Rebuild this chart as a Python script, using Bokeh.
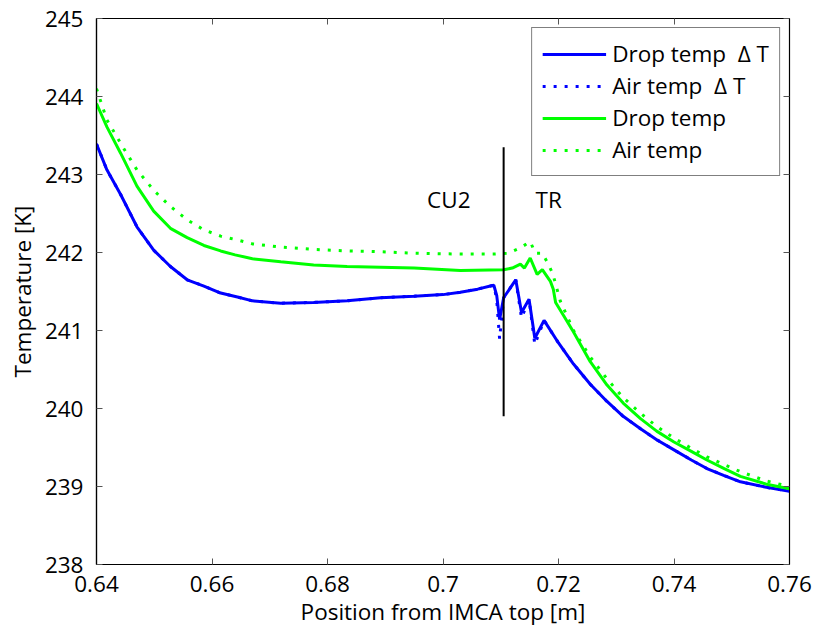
from bokeh.plotting import figure
from bokeh.models import LinearAxis, Range1d, FixedTicker, Legend, LegendItem, CustomJSTickFormatter
from bokeh.core.properties import value
from bokeh.embed import file_html
from bokeh.resources import INLINE

FONT = "Open Sans"
FS = "22.5px"

# ---- data ----
drop_dt_x = [0.6400, 0.6418, 0.6442, 0.6470, 0.6499, 0.6528, 0.6557, 0.6586, 0.6615, 0.6644, 0.6670,
             0.6719, 0.6776, 0.6834, 0.6892, 0.6950, 0.7000, 0.7030, 0.7060, 0.7082, 0.7088, 0.7093,
             0.7098, 0.7105, 0.7126, 0.7136, 0.7149, 0.7159, 0.7175, 0.7200, 0.7226, 0.7255, 0.7284,
             0.7312, 0.7342, 0.7370, 0.7400, 0.7430, 0.7457, 0.7487, 0.7515, 0.7560, 0.7600]
drop_dt_y = [243.39, 243.06, 242.74, 242.33, 242.03, 241.82, 241.65, 241.57, 241.48, 241.43, 241.38,
             241.35, 241.36, 241.38, 241.42, 241.44, 241.46, 241.49, 241.53, 241.57, 241.58, 241.45,
             241.14, 241.42, 241.65, 241.23, 241.40, 240.90, 241.13, 240.84, 240.57, 240.31, 240.09,
             239.90, 239.74, 239.60, 239.47, 239.34, 239.23, 239.14, 239.06, 238.99, 238.94]

air_dt_x = [0.6400, 0.6418, 0.6442, 0.6470, 0.6499, 0.6528, 0.6557, 0.6586, 0.6615, 0.6644, 0.6670,
            0.6719, 0.6776, 0.6834, 0.6892, 0.6950, 0.7000, 0.7030, 0.7060, 0.7082, 0.7088, 0.7093,
            0.7098, 0.7105, 0.7126, 0.7136, 0.7149, 0.7159, 0.7175, 0.7200, 0.7226, 0.7255, 0.7284,
            0.7312, 0.7342, 0.7370, 0.7400, 0.7430, 0.7457, 0.7487, 0.7515, 0.7560, 0.7600]
air_dt_y = [243.39, 243.06, 242.74, 242.33, 242.03, 241.82, 241.65, 241.57, 241.48, 241.43, 241.38,
            241.35, 241.36, 241.38, 241.42, 241.44, 241.46, 241.49, 241.53, 241.57, 241.58, 241.40,
            240.89, 241.42, 241.65, 241.16, 241.40, 240.82, 241.13, 240.84, 240.57, 240.31, 240.09,
            239.90, 239.74, 239.60, 239.47, 239.34, 239.23, 239.14, 239.06, 238.99, 238.94]

drop_x = [0.6400, 0.6418, 0.6442, 0.6470, 0.6499, 0.6528, 0.6557, 0.6586, 0.6615, 0.6640, 0.6670,
          0.6719, 0.6776, 0.6834, 0.6892, 0.6950, 0.7030, 0.7105, 0.7120, 0.7134, 0.7141, 0.7151,
          0.7163, 0.7172, 0.7186, 0.7191, 0.7195, 0.7209, 0.7226, 0.7255, 0.7284, 0.7312, 0.7342,
          0.7370, 0.7400, 0.7430, 0.7457, 0.7487, 0.7515, 0.7560, 0.7600]
drop_y = [243.91, 243.61, 243.27, 242.85, 242.53, 242.31, 242.19, 242.09, 242.02, 241.97, 241.92,
          241.88, 241.84, 241.82, 241.81, 241.80, 241.77, 241.78, 241.80, 241.85, 241.80, 241.93,
          241.72, 241.78, 241.63, 241.53, 241.36, 241.19, 240.98, 240.60, 240.30, 240.07, 239.87,
          239.71, 239.57, 239.45, 239.34, 239.23, 239.13, 239.03, 238.97]

air_x = [0.6400, 0.6418, 0.6445, 0.6470, 0.6500, 0.6528, 0.6557, 0.6586, 0.6615, 0.6644, 0.6670,
         0.6719, 0.6776, 0.6834, 0.6892, 0.6950, 0.7030, 0.7090, 0.7113, 0.7134, 0.7151,
         0.7160, 0.7172, 0.7181, 0.7190, 0.7203, 0.7226, 0.7255, 0.7284, 0.7312, 0.7342, 0.7370,
         0.7400, 0.7430, 0.7457, 0.7487, 0.7515, 0.7560, 0.7600]
air_y = [244.10, 243.70, 243.36, 243.06, 242.79, 242.59, 242.42, 242.29, 242.21, 242.16, 242.11,
         242.07, 242.04, 242.02, 242.01, 241.99, 241.98, 241.98, 241.99, 242.06, 242.14,
         241.99, 241.99, 241.87, 241.73, 241.38, 241.00, 240.66, 240.38, 240.14, 239.94, 239.77,
         239.62, 239.49, 239.38, 239.28, 239.19, 239.07, 239.00]

marker_x = [0.7105, 0.7105]
marker_y = [239.9, 243.35]
zone_labels = ["CU2", "TR"]
zone_x = [0.7010, 0.7183]
zone_y = [242.68, 242.68]

x_ticks = [0.64, 0.66, 0.68, 0.70, 0.72, 0.74, 0.76]
y_ticks = [238, 239, 240, 241, 242, 243, 244, 245]

legend_labels = ["Drop temp  \u0394 T", "Air temp  \u0394 T", "Drop temp", "Air temp"]

BLUE = "#0000ff"
GREEN = "#00ff00"

p = figure(width=813, height=629, output_backend="svg", toolbar_location=None,
           x_range=Range1d(0.64, 0.76), y_range=Range1d(238, 245),
           min_border_left=96, min_border_right=24, min_border_top=18, min_border_bottom=63,
           x_axis_label="Position from IMCA top [m]", y_axis_label="Temperature [K]")
p.grid.visible = False
p.outline_line_color = "black"
p.outline_line_width = 1.2
p.background_fill_color = "white"
p.border_fill_color = "white"

fmt_x = CustomJSTickFormatter(code="return tick.toFixed(2).replace(/0$/, '').replace(/\\.$/, '');")

for ax in p.xaxis:
    ax.ticker = FixedTicker(ticks=x_ticks)
    ax.formatter = fmt_x
for ax in p.yaxis:
    ax.ticker = FixedTicker(ticks=y_ticks)

for ax in list(p.xaxis) + list(p.yaxis):
    ax.major_tick_in = 6
    ax.major_tick_out = 0
    ax.minor_tick_line_color = None
    ax.axis_line_color = "black"
    ax.axis_line_width = 1.2
    ax.major_tick_line_color = "#555555"
    ax.major_label_text_font = FONT
    ax.major_label_text_font_size = FS
    ax.major_label_text_color = "black"
    ax.axis_label_text_font = FONT
    ax.axis_label_text_font_size = FS
    ax.axis_label_text_font_style = "normal"
    ax.axis_label_text_color = "black"

p.yaxis.major_label_standoff = 13
p.yaxis.axis_label_standoff = 4
p.xaxis.major_label_standoff = 11
p.xaxis.axis_label_standoff = 1

empty = CustomJSTickFormatter(code="return '';")
top = LinearAxis(ticker=FixedTicker(ticks=x_ticks), formatter=empty,
                 major_tick_in=6, major_tick_out=0, minor_tick_line_color=None,
                 axis_line_color="black", major_tick_line_color="#555555",
                 major_label_standoff=0, major_label_text_font_size="1px")
right = LinearAxis(ticker=FixedTicker(ticks=y_ticks), formatter=empty,
                   major_tick_in=6, major_tick_out=0, minor_tick_line_color=None,
                   axis_line_color="black", major_tick_line_color="#555555",
                   major_label_standoff=0, major_label_text_font_size="1px")
p.add_layout(top, "above")
p.add_layout(right, "right")

r1 = p.line(drop_dt_x, drop_dt_y, line_color=BLUE, line_width=3)
r2 = p.line(air_dt_x, air_dt_y, line_color=BLUE, line_width=3, line_dash="3 8")
r3 = p.line(drop_x, drop_y, line_color=GREEN, line_width=3)
r4 = p.line(air_x, air_y, line_color=GREEN, line_width=3, line_dash="3 8")

p.line(marker_x, marker_y, line_color="black", line_width=2)
p.text(zone_x, zone_y, text=zone_labels, text_font=value(FONT), text_font_size=FS,
       text_align="center", text_baseline="middle", text_color="black")

legend = Legend(items=[LegendItem(label=lab, renderers=[r]) for lab, r in
                       zip(legend_labels, [r1, r2, r3, r4])],
                location="top_right")
legend.margin = 9
legend.padding = 10
legend.spacing = 1
legend.glyph_width = 64
legend.glyph_height = 20
legend.label_standoff = 6
legend.label_text_font = FONT
legend.label_text_font_size = FS
legend.label_text_color = "black"
legend.border_line_color = "black"
legend.border_line_width = 1.5
legend.background_fill_color = "white"
legend.background_fill_alpha = 1.0
p.add_layout(legend)

open("out.html", "w").write(file_html(p, INLINE))
